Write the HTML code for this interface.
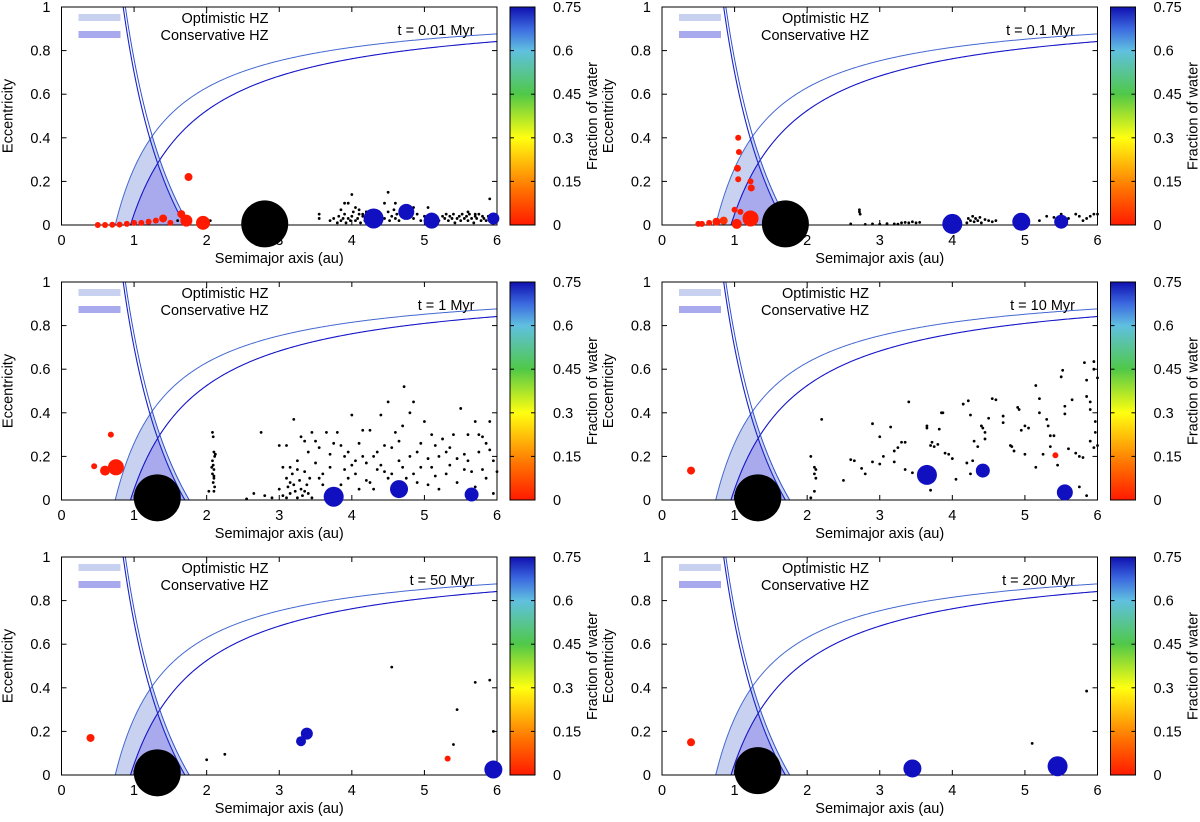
<!DOCTYPE html>
<html><head><meta charset="utf-8">
<style>
html,body{margin:0;padding:0;background:#fff;}
svg{display:block;font-family:"Liberation Sans",sans-serif;}
</style></head>
<body>
<svg id="fig" width="1200" height="822" viewBox="0 0 1200 822" xmlns="http://www.w3.org/2000/svg">
<defs>
<linearGradient id="cmap" x1="0" y1="1" x2="0" y2="0">
<stop offset="0" stop-color="#ff1a00"/>
<stop offset="0.15" stop-color="#ff6a00"/>
<stop offset="0.4" stop-color="#ffff10"/>
<stop offset="0.6" stop-color="#50c848"/>
<stop offset="0.8" stop-color="#60c0e0"/>
<stop offset="0.9" stop-color="#3c6ae0"/>
<stop offset="1" stop-color="#1010b0"/>
</linearGradient>
</defs>
</svg>
<script>
// ---- data ----
const xTicks = [0,1,2,3,4,5,6];
const yTicks = [0,0.2,0.4,0.6,0.8,1];
const yTickLabels = ["0","0.2","0.4","0.6","0.8","1"];
const cbTicks = [0,0.15,0.3,0.45,0.6,0.75];
const cbTickLabels = ["0","0.15","0.3","0.45","0.6","0.75"];
const times = ["t = 0.01 Myr","t = 0.1 Myr","t = 1 Myr","t = 10 Myr","t = 50 Myr","t = 200 Myr"];
const hzOptIn = 0.74, hzConsIn = 0.95, hzConsOut = 1.70, hzOptOut = 1.76;

const giantA = [2.8, 1.7, 1.32, 1.32, 1.32, 1.32];
const giantE = [0.005, 0.005, 0.01, 0.01, 0.01, 0.02];

const p1A = [4.3,4.75,5.1,5.95,1.75,1.95,1.72,1.65,1.5,1.4,1.3,1.2,1.1,1.0,0.9,0.8,0.7,0.6,0.5];
const p1E = [0.03,0.06,0.02,0.03,0.22,0.01,0.02,0.05,0.01,0.03,0.02,0.015,0.01,0.01,0.005,0.002,0.001,0,0];
const p1S = [10,8,8,6,4,7,6,4,3,4,3,3,3,3,3,3,3,3,3];
const p1W = [0.75,0.75,0.75,0.75,0,0,0,0,0,0,0,0,0,0,0,0,0,0,0];

const p2A = [4.0,4.95,5.5,1.05,1.06,1.04,1.05,1.22,1.23,1.0,1.08,1.22,1.03,0.85,0.75,0.65,0.55,0.5];
const p2E = [0.005,0.015,0.015,0.4,0.335,0.26,0.21,0.2,0.17,0.07,0.06,0.03,0.005,0.02,0.015,0.01,0.005,0.005];
const p2S = [10,9,7,3,3,3.5,3,3,3.5,3,3,8,5,4,4,3,3,3];
const p2W = [0.75,0.75,0.75,0,0,0,0,0,0,0,0,0,0,0.03,0,0,0,0];

const p3A = [3.75,4.65,5.65,0.75,0.6,0.45,0.68];
const p3E = [0.015,0.05,0.025,0.15,0.135,0.155,0.3];
const p3S = [10,9,7,8,5,3,3];
const p3W = [0.75,0.75,0.75,0,0,0,0];

const p4A = [3.65,4.42,5.55,0.4,5.42];
const p4E = [0.115,0.135,0.035,0.135,0.205];
const p4S = [10,7,8,4,3];
const p4W = [0.75,0.75,0.75,0,0];

const p5A = [3.3,3.38,5.95,0.4,5.32];
const p5E = [0.155,0.19,0.025,0.17,0.075];
const p5S = [5,6,9,4,3];
const p5W = [0.75,0.75,0.75,0,0];

const p6A = [3.45,5.45,0.4];
const p6E = [0.03,0.04,0.15];
const p6S = [9,10,4];
const p6W = [0.75,0.75,0];

const d1A = [1.6,2.05,3.55,3.55,3.7,3.75,3.8,3.82,3.85,3.88,3.9,3.92,3.95,3.98,4.0,4.02,4.05,4.08,4.1,4.12,4.15,4.18,4.2,4.22,4.25,4.4,4.45,4.5,4.52,4.55,4.58,4.6,4.62,4.65,4.7,4.85,4.9,4.95,5.0,5.05,5.1,5.2,5.25,5.28,5.3,5.33,5.35,5.38,5.4,5.42,5.45,5.48,5.5,5.52,5.55,5.58,5.6,5.62,5.65,5.68,5.7,5.72,5.75,5.78,5.8,5.82,5.85,5.88,5.9,5.92,4.0,3.95,3.9,4.5,4.45,4.6,4.85,5.9,5.05,4.1,4.2,3.85,4.05,4.15,5.6,5.7];
const d1E = [0.02,0.02,0.05,0.03,0.02,0.03,0.01,0.04,0.02,0.03,0.05,0.01,0.03,0.02,0.04,0.06,0.02,0.03,0.05,0.01,0.04,0.02,0.06,0.03,0.05,0.05,0.03,0.06,0.02,0.04,0.07,0.03,0.05,0.02,0.04,0.03,0.05,0.02,0.04,0.03,0.05,0.02,0.04,0.03,0.05,0.02,0.04,0.03,0.05,0.01,0.03,0.04,0.02,0.05,0.03,0.04,0.02,0.05,0.03,0.01,0.04,0.03,0.05,0.02,0.04,0.03,0.02,0.04,0.03,0.02,0.14,0.1,0.1,0.15,0.1,0.1,0.08,0.12,0.08,0.07,0.06,0.07,0.08,0.05,0.06,0.05];

const d2A = [2.72,2.72,2.73,2.6,2.8,2.9,3.0,3.2,3.3,3.35,3.4,3.45,3.5,3.55,4.2,4.22,4.25,4.28,4.3,4.32,4.35,4.38,4.4,4.45,4.5,4.55,4.6,5.0,5.2,5.3,5.4,5.5,5.6,5.7,5.75,5.8,5.85,5.9,5.95,6.0,3.1,3.25];
const d2E = [0.07,0.06,0.05,0.005,0.003,0.005,0.004,0.005,0.01,0.012,0.01,0.015,0.01,0.012,0.01,0.03,0.02,0.04,0.015,0.03,0.02,0.035,0.01,0.025,0.02,0.015,0.02,0.03,0.02,0.04,0.035,0.05,0.03,0.05,0.04,0.02,0.03,0.04,0.05,0.05,0.006,0.004];

const d3A = [2.08,2.09,2.1,2.11,2.08,2.09,2.1,2.08,2.1,2.09,2.11,2.1,2.03,2.12,2.07,2.1,2.55,2.65,2.75,2.8,2.9,3.0,3.05,3.1,3.15,3.2,3.25,3.3,3.35,3.4,3.45,3.5,3.55,3.6,3.65,3.7,3.8,3.85,3.9,3.95,4.0,4.05,4.1,4.15,4.2,4.25,4.3,4.35,4.4,4.45,4.5,4.55,4.6,4.65,4.7,4.72,4.75,4.8,4.85,4.9,4.95,5.0,5.05,5.1,5.15,5.2,5.25,5.3,5.35,5.4,5.45,5.5,5.55,5.6,5.65,5.7,5.75,5.8,5.85,5.9,5.95,6.0,5.95,3.0,3.05,3.1,3.12,3.15,3.18,3.2,3.22,3.25,3.28,3.3,3.32,3.35,3.38,3.4,3.42,3.45,3.15,3.25,3.1,3.35,3.6,3.7,3.85,3.9,4.05,4.1,4.2,4.3,4.4,4.5,4.55,4.6,4.8,4.85,4.95,5.05,5.15,5.2,5.3,5.45,5.6,5.7,5.8,5.85,5.9,4.7,4.65,4.45,4.25,3.95,3.75,3.55,3.5,4.0,4.15,4.35,4.9,5.1,5.35,5.55,5.75];
const d3E = [0.31,0.29,0.22,0.2,0.18,0.16,0.14,0.12,0.1,0.08,0.06,0.04,0.04,0.21,0.15,0.11,0.005,0.03,0.31,0.02,0.01,0.25,0.15,0.25,0.08,0.37,0.18,0.29,0.27,0.22,0.31,0.17,0.24,0.07,0.31,0.21,0.31,0.25,0.2,0.1,0.39,0.12,0.26,0.32,0.17,0.32,0.2,0.14,0.39,0.13,0.45,0.24,0.31,0.18,0.34,0.52,0.1,0.4,0.45,0.22,0.15,0.36,0.07,0.3,0.25,0.2,0.28,0.12,0.16,0.3,0.08,0.42,0.21,0.3,0.13,0.36,0.22,0.29,0.26,0.36,0.18,0.13,0.03,0.05,0.02,0.1,0.06,0.03,0.12,0.07,0.04,0.01,0.09,0.05,0.02,0.13,0.07,0.03,0.1,0.01,0.15,0.14,0.01,0.04,0.12,0.15,0.07,0.14,0.18,0.05,0.09,0.05,0.16,0.1,0.12,0.03,0.2,0.12,0.26,0.19,0.11,0.05,0.22,0.19,0.18,0.06,0.14,0.1,0.23,0.15,0.27,0.25,0.08,0.22,0.26,0.1,0.27,0.16,0.2,0.22,0.08,0.15,0.24,0.14,0.3];

const d4A = [2.05,2.1,2.12,2.1,2.12,2.1,2.05,2.2,2.5,2.6,2.65,2.75,2.8,2.9,2.9,3.0,3.0,3.05,3.15,3.2,3.2,3.25,3.3,3.35,3.35,3.4,3.45,3.65,3.65,3.7,3.72,3.75,3.8,3.82,3.85,3.87,3.9,3.95,4.0,4.05,4.15,4.2,4.22,4.25,4.25,4.28,4.3,4.35,4.4,4.42,4.45,4.45,4.5,4.55,4.6,4.7,4.7,4.8,4.82,4.85,4.9,4.92,4.95,5.0,5.0,5.05,5.15,5.15,5.2,5.2,5.25,5.3,5.32,5.35,5.35,5.4,5.45,5.5,5.52,5.55,5.55,5.6,5.65,5.7,5.75,5.8,5.82,5.85,5.85,5.9,5.9,5.75,5.85,5.95,5.95,5.97,5.97,6.0,6.0,5.9,5.95,3.7];
const d4E = [0.2,0.15,0.14,0.12,0.1,0.04,0.01,0.37,0.09,0.185,0.18,0.145,0.12,0.35,0.175,0.29,0.165,0.2,0.335,0.225,0.175,0.24,0.265,0.265,0.14,0.45,0.125,0.34,0.33,0.25,0.265,0.245,0.255,0.325,0.4,0.4,0.215,0.21,0.19,0.095,0.44,0.17,0.455,0.39,0.12,0.18,0.27,0.245,0.34,0.33,0.31,0.28,0.375,0.465,0.46,0.385,0.355,0.25,0.245,0.225,0.425,0.415,0.32,0.21,0.34,0.33,0.525,0.15,0.465,0.4,0.21,0.37,0.34,0.295,0.245,0.295,0.16,0.565,0.595,0.43,0.395,0.235,0.46,0.215,0.2,0.195,0.63,0.475,0.55,0.45,0.415,0.06,0.02,0.635,0.6,0.36,0.31,0.25,0.56,0.27,0.24,0.045];

const d5A = [2.0,2.25,4.55,5.45,5.4,5.7,5.9,5.95];
const d5E = [0.07,0.095,0.495,0.3,0.14,0.425,0.435,0.2];
const d6A = [5.1,5.85];
const d6E = [0.145,0.385];

const panelPA = [p1A,p2A,p3A,p4A,p5A,p6A];
const panelPE = [p1E,p2E,p3E,p4E,p5E,p6E];
const panelPS = [p1S,p2S,p3S,p4S,p5S,p6S];
const panelPW = [p1W,p2W,p3W,p4W,p5W,p6W];
const panelDA = [d1A,d2A,d3A,d4A,d5A,d6A];
const panelDE = [d1E,d2E,d3E,d4E,d5E,d6E];

// ---- drawing ----
const svg = document.getElementById('fig');
const NS = 'http://www.w3.org/2000/svg';
const FS = 14.5;
function mk(tag, attrs, parent){
  const el = document.createElementNS(NS, tag);
  for (const k in attrs) el.setAttribute(k, attrs[k]);
  (parent||svg).appendChild(el);
  return el;
}
function waterColor(w){
  const stops=[[0,[255,26,0]],[0.15,[255,106,0]],[0.4,[255,255,16]],[0.6,[80,200,72]],[0.8,[96,192,224]],[0.9,[60,106,224]],[1,[16,16,192]]];
  const t=Math.max(0,Math.min(1,w/0.75));
  for(let i=1;i<stops.length;i++){
    if(t<=stops[i][0]){
      const a=stops[i-1],b=stops[i];const f=(t-a[0])/(b[0]-a[0]);
      const c=a[1].map((v,j)=>Math.round(v+(b[1][j]-v)*f));
      return `rgb(${c[0]},${c[1]},${c[2]})`;
    }
  }
  return 'rgb(16,16,192)';
}

const PW = 435.5, PH = 218;
const lefts = [61.5, 662];
const bottoms = [225, 500, 775];

for (let p=0;p<6;p++){
  const col=p%2,row=Math.floor(p/2);
  const L=lefts[col], B=bottoms[row], T=B-PH, R=L+PW;
  const X = a => L + a/6*PW;
  const Y = e => B - e*PH;
  const g = mk('g',{});
  
  

  function region(rin, rout){
    const N=200; const pts=[];
    const eMax=(rout-rin)/(rout+rin);
    for(let i=0;i<=N;i++){const e=eMax*i/N;pts.push([X(rin/(1-e)),Y(e)]);}
    for(let i=N;i>=0;i--){const e=eMax*i/N;pts.push([X(rout/(1+e)),Y(e)]);}
    return pts.map(q=>q[0].toFixed(2)+','+q[1].toFixed(2)).join(' ');
  }
  const fo=mk('polygon',{points:region(hzOptIn,hzOptOut),fill:'#c8d2f0'},g);
  
  
  const fc=mk('polygon',{points:region(hzConsIn,hzConsOut),fill:'#a9aaee'},g);
  
  

  function ascCurve(rin){
    const pts=[];for(let i=0;i<=300;i++){const a=rin+(6-rin)*i/300;pts.push(X(a).toFixed(2)+','+Y(1-rin/a).toFixed(2));}
    return pts.join(' ');
  }
  function descCurve(rout){
    const pts=[];for(let i=0;i<=200;i++){const a=rout/2+(rout-rout/2)*i/200;pts.push(X(a).toFixed(2)+','+Y(rout/a-1).toFixed(2));}
    return pts.join(' ');
  }
  const c1=mk('polyline',{points:ascCurve(hzOptIn),fill:'none',stroke:'#4468d0','stroke-width':1},g);
  
  
  const c2=mk('polyline',{points:ascCurve(hzConsIn),fill:'none',stroke:'#1414c8','stroke-width':1.1},g);
  
  
  const c3=mk('polyline',{points:descCurve(hzConsOut),fill:'none',stroke:'#1a22c8','stroke-width':1.1},g);
  
  
  const c4=mk('polyline',{points:descCurve(hzOptOut),fill:'none',stroke:'#3050d0','stroke-width':1},g);
  
  

  const fr=mk('rect',{x:L,y:T,width:PW,height:PH,fill:'none',stroke:'#000','stroke-width':1},g);
  
  
  xTicks.forEach(v=>{
    mk('line',{x1:X(v),x2:X(v),y1:B,y2:B-5,stroke:'#000'},g);
    mk('line',{x1:X(v),x2:X(v),y1:T,y2:T+5,stroke:'#000'},g);
    const t=mk('text',{x:X(v),y:B+20,'text-anchor':'middle','font-size':FS},g);
    t.textContent=v;
    
    
  });
  yTicks.forEach((v,i)=>{
    mk('line',{x1:L,x2:L+5,y1:Y(v),y2:Y(v),stroke:'#000'},g);
    mk('line',{x1:R,x2:R-5,y1:Y(v),y2:Y(v),stroke:'#000'},g);
    const t=mk('text',{x:L-11,y:Y(v)+5,'text-anchor':'end','font-size':FS},g);
    t.textContent=yTickLabels[i];
    
    
  });
  const xt=mk('text',{x:L+PW/2,y:B+38,'text-anchor':'middle','font-size':FS},g);
  xt.textContent='Semimajor axis (au)';
  
  
  const yt=mk('text',{x:0,y:0,'text-anchor':'middle','font-size':FS,transform:`translate(${L-49},${T+PH/2}) rotate(-90)`},g);
  yt.textContent='Eccentricity';
  
  

  const s1=mk('rect',{x:L+17,y:T+7,width:42,height:7,fill:'#c8d2f0'},g);
  
  
  const s2=mk('rect',{x:L+17,y:T+24,width:42,height:7,fill:'#a9aaee'},g);
  
  
  const l1=mk('text',{x:L+207,y:T+16,'text-anchor':'end','font-size':FS},g);
  l1.textContent='Optimistic HZ';
  
  
  const l2=mk('text',{x:L+207,y:T+33,'text-anchor':'end','font-size':FS},g);
  l2.textContent='Conservative HZ';
  
  
  const tl=mk('text',{x:L+413,y:T+28,'text-anchor':'end','font-size':FS},g);
  tl.textContent=times[p];
  
  

  panelDA[p].forEach((a,i)=>{
    const d=mk('circle',{cx:X(a),cy:Y(panelDE[p][i]),r:1.4,fill:'#000'},g);
    
    
  });
  panelPA[p].forEach((a,i)=>{
    const c=mk('circle',{cx:X(a),cy:Y(panelPE[p][i]),r:panelPS[p][i],fill:waterColor(panelPW[p][i])},g);
    
    
  });
  const gc=mk('circle',{cx:X(giantA[p]),cy:Y(giantE[p]),r:23.5,fill:'#000'},g);
  
  

  const cbx=L+PW+13, cbw=25;
  const cb=mk('rect',{x:cbx,y:T,width:cbw,height:PH,fill:'url(#cmap)',stroke:'#000','stroke-width':1},g);
  
  
  cbTicks.forEach((v,i)=>{
    const yy=B-v/0.75*PH;
    mk('line',{x1:cbx,x2:cbx+4,y1:yy,y2:yy,stroke:'#000'},g);
    mk('line',{x1:cbx+cbw,x2:cbx+cbw-4,y1:yy,y2:yy,stroke:'#000'},g);
    const t=mk('text',{x:cbx+43,y:yy+5,'font-size':FS},g);
    t.textContent=cbTickLabels[i];
    
    
  });
  const ct=mk('text',{x:0,y:0,'text-anchor':'middle','font-size':FS,transform:`translate(${cbx+87},${T+PH/2}) rotate(-90)`},g);
  ct.textContent='Fraction of water';
  
  
}
</script>
</body></html>
